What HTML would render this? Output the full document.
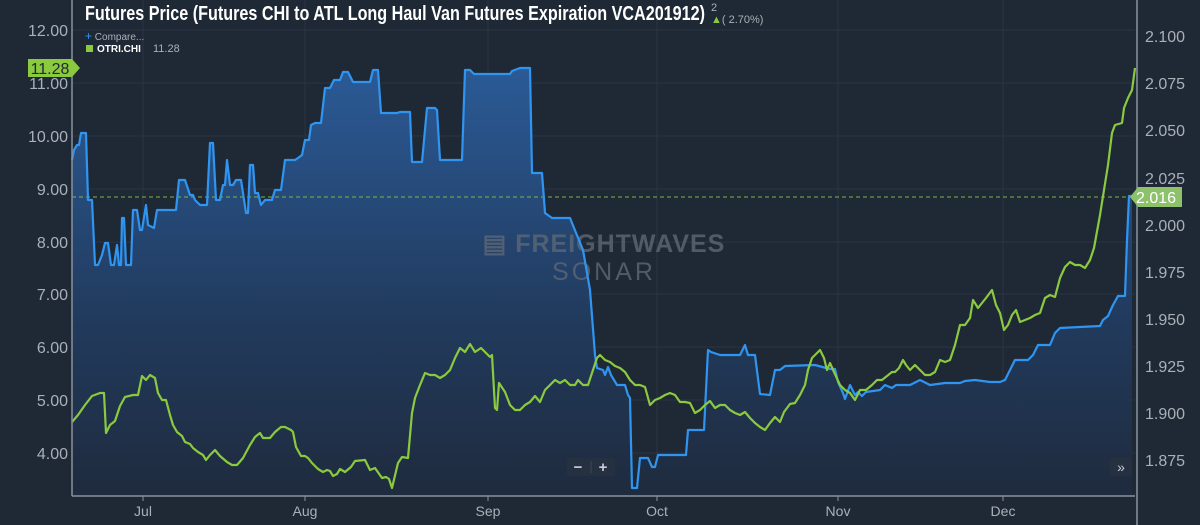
<!DOCTYPE html>
<html><head><meta charset="utf-8"><style>
html,body{margin:0;padding:0;background:#1f2835;}
svg{display:block;font-family:"Liberation Sans",sans-serif;}
</style></head><body>
<svg width="1200" height="525" viewBox="0 0 1200 525">
<defs>
<linearGradient id="ag" x1="0" y1="0" x2="0" y2="1">
<stop offset="0" stop-color="#2b5a96"/>
<stop offset="0.6" stop-color="#213a5c"/>
<stop offset="1" stop-color="#1f2b3e"/>
</linearGradient>
</defs>
<rect width="1200" height="525" fill="#1f2835"/>
<g stroke="#2a3442" stroke-width="1">
<line x1="72" y1="30" x2="1135" y2="30"/><line x1="72" y1="83" x2="1135" y2="83"/><line x1="72" y1="136" x2="1135" y2="136"/><line x1="72" y1="189" x2="1135" y2="189"/><line x1="72" y1="242" x2="1135" y2="242"/><line x1="72" y1="294" x2="1135" y2="294"/><line x1="72" y1="347" x2="1135" y2="347"/><line x1="72" y1="400" x2="1135" y2="400"/><line x1="72" y1="453" x2="1135" y2="453"/>
<line x1="143" y1="0" x2="143" y2="496"/><line x1="305" y1="0" x2="305" y2="496"/><line x1="488" y1="0" x2="488" y2="496"/><line x1="657" y1="0" x2="657" y2="496"/><line x1="838" y1="0" x2="838" y2="496"/><line x1="1003" y1="0" x2="1003" y2="496"/>
</g>
<polygon fill="url(#ag)" points="72,496 72,160 74,150 77,145 79,145 81,133 86,133 88,200 92,200 95,265 98,265 102,255 105,243 108,243 111,265 114,265 117,245 119,265 121,265 122,218 124,218 126,265 131,265 133,210 137,210 140,230 142,230 146,205 148,225 154,228 157,210 176,210 179,180 185,180 190,195 193,195 195,200 200,205 207,205 210,143 213,143 216,200 220,200 223,185 225,185 227,160 230,185 233,185 236,180 241,180 243,193 246,213 248,213 250,165 253,165 255,193 258,193 261,205 265,200 272,200 275,190 281,190 285,160 295,160 298,158 302,155 305,140 309,140 311,125 315,123 321,123 325,88 330,88 334,80 340,80 343,72 348,72 353,82 370,82 373,70 378,70 381,113 397,113 400,112 410,112 412,162 422,162 427,108 435,108 437,110 440,160 462,160 465,70 470,70 474,74 510,74 512,71 520,68 530,68 532,173 542,173 545,213 552,218 570,218 583,250 590,290 595,355 597,368 603,370 605,375 608,367 611,375 617,385 625,385 628,395 630,398 632,488 637,488 640,458 648,458 652,467 655,467 658,455 686,455 688,430 704,430 708,350 711,352 720,355 740,355 745,345 748,355 755,355 760,394 770,395 775,370 780,370 785,366 815,365 830,369 835,369 838,382 843,393 845,399 850,385 855,395 858,392 862,396 866,392 880,390 885,385 892,388 896,385 910,385 920,380 930,385 945,383 960,383 965,381 975,380 990,382 1000,382 1005,380 1010,370 1015,360 1028,360 1033,355 1038,345 1050,345 1055,333 1060,328 1100,326 1103,320 1108,316 1113,305 1118,296 1125,296 1127,240 1129,196 1132,196 1132,496"/>
<text x="604" y="252" font-size="25" font-weight="bold" fill="#5e6775" opacity="0.8" text-anchor="middle" letter-spacing="1">▤ FREIGHTWAVES</text>
<text x="604" y="280" font-size="25" fill="#5e6775" opacity="0.8" text-anchor="middle" letter-spacing="3">SONAR</text>
<line x1="72" y1="197" x2="1135" y2="197" stroke="#7fb546" stroke-width="1" stroke-dasharray="4,3"/>
<polyline fill="none" stroke="#2f95f0" stroke-width="2.2" stroke-linejoin="round" points="72,160 74,150 77,145 79,145 81,133 86,133 88,200 92,200 95,265 98,265 102,255 105,243 108,243 111,265 114,265 117,245 119,265 121,265 122,218 124,218 126,265 131,265 133,210 137,210 140,230 142,230 146,205 148,225 154,228 157,210 176,210 179,180 185,180 190,195 193,195 195,200 200,205 207,205 210,143 213,143 216,200 220,200 223,185 225,185 227,160 230,185 233,185 236,180 241,180 243,193 246,213 248,213 250,165 253,165 255,193 258,193 261,205 265,200 272,200 275,190 281,190 285,160 295,160 298,158 302,155 305,140 309,140 311,125 315,123 321,123 325,88 330,88 334,80 340,80 343,72 348,72 353,82 370,82 373,70 378,70 381,113 397,113 400,112 410,112 412,162 422,162 427,108 435,108 437,110 440,160 462,160 465,70 470,70 474,74 510,74 512,71 520,68 530,68 532,173 542,173 545,213 552,218 570,218 583,250 590,290 595,355 597,368 603,370 605,375 608,367 611,375 617,385 625,385 628,395 630,398 632,488 637,488 640,458 648,458 652,467 655,467 658,455 686,455 688,430 704,430 708,350 711,352 720,355 740,355 745,345 748,355 755,355 760,394 770,395 775,370 780,370 785,366 815,365 830,369 835,369 838,382 843,393 845,399 850,385 855,395 858,392 862,396 866,392 880,390 885,385 892,388 896,385 910,385 920,380 930,385 945,383 960,383 965,381 975,380 990,382 1000,382 1005,380 1010,370 1015,360 1028,360 1033,355 1038,345 1050,345 1055,333 1060,328 1100,326 1103,320 1108,316 1113,305 1118,296 1125,296 1127,240 1129,196 1132,196"/>
<polyline fill="none" stroke="#8bc93f" stroke-width="2.2" stroke-linejoin="round" points="72,422 78,415 85,405 92,396 100,393 104,393 106,433 110,425 115,421 120,406 125,397 133,395 138,395 142,376 146,380 150,375 155,378 158,393 162,400 166,400 170,415 173,425 177,432 182,436 185,442 190,444 193,448 198,452 203,455 206,460 210,455 215,450 220,456 227,462 232,465 237,465 243,458 250,445 255,437 260,433 263,438 270,438 275,432 281,427 285,427 291,430 293,432 296,447 301,456 305,456 308,458 312,463 318,469 323,472 327,470 330,471 333,476 337,474 340,469 345,472 351,467 355,461 365,460 370,470 375,468 382,478 386,477 389,479 392,488 398,463 402,457 408,458 412,413 415,398 420,385 425,373 430,375 435,375 440,378 445,375 450,370 455,358 460,348 465,352 470,344 475,352 481,348 485,352 490,357 492,355 495,408 497,410 499,383 505,392 510,405 515,410 520,410 525,405 530,402 535,396 540,402 545,390 550,385 555,380 560,383 565,380 570,385 575,385 578,380 583,385 588,385 593,370 597,358 600,355 605,360 610,362 615,366 620,368 625,372 630,380 635,385 640,385 645,387 650,405 655,400 660,398 665,395 670,393 675,395 680,402 685,402 690,403 695,413 700,410 705,405 710,401 715,408 720,405 725,405 730,410 735,413 740,415 745,412 750,418 755,423 760,427 765,430 770,423 775,417 780,422 784,412 790,404 795,403 800,395 805,385 808,370 812,358 815,355 820,350 824,358 827,370 830,363 834,372 840,385 845,390 850,393 855,400 860,390 866,390 872,385 877,380 882,380 887,376 892,372 895,372 899,368 903,360 906,365 910,370 915,365 920,370 925,375 930,375 935,372 940,360 945,362 950,360 955,345 960,325 965,325 970,318 973,300 978,308 982,303 986,298 992,290 996,305 1000,313 1004,330 1008,325 1012,315 1016,310 1020,322 1025,320 1030,318 1035,315 1040,313 1045,298 1050,295 1055,297 1060,278 1065,267 1070,262 1075,265 1080,265 1085,268 1090,260 1094,248 1100,215 1104,190 1108,165 1112,133 1115,125 1122,123 1124,108 1128,98 1132,90 1135,68"/>
<g stroke="#8a929c" stroke-width="1.5"><line x1="72" y1="0" x2="72" y2="496"/><line x1="72" y1="496" x2="1135" y2="496"/><line x1="1137" y1="0" x2="1137" y2="525"/></g>
<g stroke="#8a929c" stroke-width="1"><line x1="143" y1="496" x2="143" y2="501"/><line x1="305" y1="496" x2="305" y2="501"/><line x1="488" y1="496" x2="488" y2="501"/><line x1="657" y1="496" x2="657" y2="501"/><line x1="838" y1="496" x2="838" y2="501"/><line x1="1003" y1="496" x2="1003" y2="501"/></g>
<g font-size="16" fill="#a9b0b8" text-anchor="end">
<text x="68" y="36">12.00</text><text x="68" y="89">11.00</text><text x="68" y="142">10.00</text><text x="68" y="195">9.00</text><text x="68" y="248">8.00</text><text x="68" y="300">7.00</text><text x="68" y="353">6.00</text><text x="68" y="406">5.00</text><text x="68" y="459">4.00</text>
</g>
<g font-size="16" fill="#a9b0b8">
<text x="1145" y="42">2.100</text><text x="1145" y="89">2.075</text><text x="1145" y="136">2.050</text><text x="1145" y="184">2.025</text><text x="1145" y="231">2.000</text><text x="1145" y="278">1.975</text><text x="1145" y="325">1.950</text><text x="1145" y="372">1.925</text><text x="1145" y="419">1.900</text><text x="1145" y="466">1.875</text>
</g>
<g font-size="14" fill="#a9b0b8" text-anchor="middle">
<text x="143" y="516">Jul</text><text x="305" y="516">Aug</text><text x="488" y="516">Sep</text><text x="657" y="516">Oct</text><text x="838" y="516">Nov</text><text x="1003" y="516">Dec</text>
</g>
<polygon points="1130,197 1138,187 1182,187 1182,207 1138,207" fill="#8dc26a"/>
<text x="1156" y="203" font-size="16" fill="#fff" text-anchor="middle">2.016</text>
<polygon points="28,59 72,59 80,68 72,77 28,77" fill="#8bc93f"/>
<text x="50" y="74" font-size="16" fill="#1f2835" text-anchor="middle">11.28</text>
<text x="85" y="20" font-size="20" font-weight="bold" fill="#fff" textLength="620" lengthAdjust="spacingAndGlyphs">Futures Price (Futures CHI to ATL Long Haul Van Futures Expiration VCA201912)</text>
<text x="711" y="11" font-size="11" fill="#a9b0b8">2</text>
<text x="711" y="23" font-size="11" fill="#a9b0b8"><tspan fill="#8bc93f">▲</tspan>( 2.70%)</text>
<text x="85" y="40" font-size="10" fill="#a9b0b8"><tspan fill="#2f95f0" font-size="12">+</tspan> Compare...</text>
<rect x="86" y="45" width="7" height="7" fill="#8bc93f"/>
<text x="97" y="52" font-size="10" font-weight="bold" fill="#fff">OTRI.CHI</text>
<text x="153" y="52" font-size="11" fill="#a9b0b8">11.28</text>
<rect x="567" y="458" width="48" height="18" fill="#253040" rx="2"/>
<text x="578" y="472" font-size="15" font-weight="bold" fill="#ccd" text-anchor="middle">−</text>
<line x1="591" y1="461" x2="591" y2="473" stroke="#445"/>
<text x="603" y="472" font-size="15" font-weight="bold" fill="#ccd" text-anchor="middle">+</text>
<rect x="1110" y="458" width="22" height="18" fill="#253040" rx="2"/>
<text x="1121" y="472" font-size="14" fill="#ccd" text-anchor="middle">»</text>
</svg>
</body></html>
